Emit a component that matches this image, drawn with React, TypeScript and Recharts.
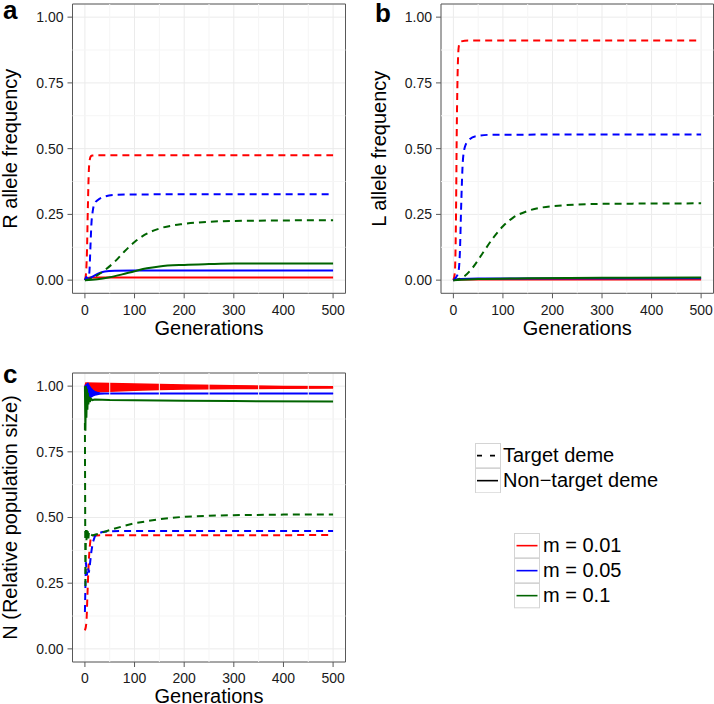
import React from 'react';
import {
  ComposedChart, Line, Area, XAxis, YAxis, CartesianGrid, ReferenceLine,
  ReferenceArea, Label, Legend,
} from 'recharts';

const RED = '#ff0000';
const BLUE = '#0000ff';
const GREEN = '#006400';
const FONT = '"Liberation Sans", Arial, Helvetica, sans-serif';

// axes
const xTicks = [0, 100, 200, 300, 400, 500];
const yTicks = [0, 0.25, 0.5, 0.75, 1];
const xMinor = [50, 150, 250, 350, 450];
const yMinor = [0.125, 0.375, 0.625, 0.875];
const xDomain = [-25, 525];
const yDomain = [-0.05, 1.05];

// legend labels
const linetypeLabels = ['Target deme', 'Non\u2212target deme'];
const colorLabels = ['m = 0.01', 'm = 0.05', 'm = 0.1'];
const panelLetters = ['a', 'b', 'c'];

// ---------- Panel a : R allele frequency ----------
const aGenRT = [0, 2, 4, 6, 8, 10, 12, 15, 30, 500];
const aValRT = [0, 0.02, 0.1, 0.28, 0.42, 0.46, 0.471, 0.474, 0.475, 0.475];
const aGenBT = [0, 3, 6, 9, 11, 13, 16, 20, 30, 40, 60, 100, 500];
const aValBT = [0, 0.012, 0.004, 0.03, 0.12, 0.21, 0.265, 0.293, 0.31, 0.318, 0.324, 0.326, 0.327];
const aGenGT = [0, 10, 20, 40, 60, 80, 100, 120, 150, 200, 250, 300, 400, 500];
const aValGT = [0, 0.004, 0.013, 0.038, 0.07, 0.11, 0.145, 0.172, 0.196, 0.214, 0.222, 0.225, 0.227, 0.228];
const aGenRN = [0, 3, 6, 10, 20, 500];
const aValRN = [0, 0.005, 0.008, 0.01, 0.01, 0.01];
const aGenBN = [0, 10, 20, 30, 40, 60, 100, 500];
const aValBN = [0, 0.008, 0.018, 0.027, 0.033, 0.036, 0.037, 0.037];
const aGenGN = [0, 25, 50, 75, 100, 125, 150, 200, 250, 300, 400, 500];
const aValGN = [0, 0.003, 0.011, 0.022, 0.034, 0.045, 0.052, 0.058, 0.061, 0.063, 0.063, 0.063];

// ---------- Panel b : L allele frequency ----------
const bGenRT = [0, 3, 5, 7, 9, 11, 14, 30, 500];
const bValRT = [0, 0.03, 0.2, 0.6, 0.82, 0.89, 0.907, 0.911, 0.911];
const bGenBT = [0, 5, 10, 13, 16, 19, 23, 30, 45, 80, 500];
const bValBT = [0, 0.01, 0.03, 0.1, 0.3, 0.45, 0.505, 0.53, 0.547, 0.553, 0.554];
const bGenGT = [0, 10, 20, 40, 60, 80, 100, 120, 150, 200, 300, 500];
const bValGT = [0, 0.003, 0.012, 0.05, 0.105, 0.16, 0.205, 0.237, 0.263, 0.281, 0.29, 0.292];
const bGenRN = [0, 10, 500];
const bValRN = [0, 0.002, 0.002];
const bGenBN = [0, 15, 50, 500];
const bValBN = [0, 0.004, 0.006, 0.007];
const bGenGN = [0, 50, 150, 300, 500];
const bValGN = [0, 0.004, 0.007, 0.009, 0.01];

// ---------- Panel c : N (relative population size) ----------
const cGenRT = [0, 3, 5, 7, 9, 11, 13, 16, 30, 500];
const cValRT = [0.07, 0.1, 0.2, 0.3, 0.37, 0.41, 0.425, 0.43, 0.432, 0.433];
const cGenBT = [0, 2, 4, 6, 8, 10, 13, 16, 20, 25, 35, 50, 100, 500];
const cValBT = [0.14, 0.33, 0.28, 0.31, 0.29, 0.32, 0.37, 0.405, 0.428, 0.438, 0.445, 0.448, 0.449, 0.449];
const cGenGT = [0, 1, 2, 3, 4, 5, 6, 7, 8, 10, 12, 15, 25, 50, 75, 100, 150, 200, 250, 300, 400, 500];
const cValGT = [0.86, 0.23, 0.46, 0.41, 0.455, 0.415, 0.447, 0.42, 0.44, 0.428, 0.435, 0.432, 0.437, 0.452, 0.466, 0.478, 0.494, 0.503, 0.507, 0.509, 0.511, 0.511];
// oscillating non-target demes: envelope (low, high)
const cGenRN = [0, 2, 25, 50, 100, 150, 200, 300, 400, 500];
const cLowRN = [1.0, 0.978, 0.979, 0.981, 0.984, 0.987, 0.989, 0.991, 0.992, 0.993];
const cHighRN = [1.0, 1.012, 1.011, 1.01, 1.008, 1.006, 1.004, 1.001, 0.999, 0.998];
const cGenBN = [0, 6, 9, 12, 16, 20, 25, 30, 40, 100, 500];
const cLowBN = [1.0, 0.95, 0.953, 0.958, 0.963, 0.966, 0.968, 0.97, 0.971, 0.971, 0.971];
const cHighBN = [1.0, 1.01, 1.0, 0.992, 0.984, 0.979, 0.976, 0.974, 0.973, 0.973, 0.973];
const cGenGN = [0, 1, 2, 3, 4, 5, 6, 7, 8, 10, 12, 15, 20, 50, 100, 200, 300, 500];
const cValGN = [1.0, 0.83, 1.0, 0.88, 0.99, 0.91, 0.975, 0.93, 0.96, 0.94, 0.952, 0.947, 0.949, 0.947, 0.946, 0.944, 0.943, 0.942];

type Series = { key: string; gens: number[]; vals: any[] };
function merge(series: Series[]) {
  const map = new Map<number, any>();
  series.forEach((s) =>
    s.gens.forEach((g, i) => {
      if (!map.has(g)) map.set(g, { g });
      map.get(g)[s.key] = s.vals[i];
    }),
  );
  return Array.from(map.values()).sort((p, q) => p.g - q.g);
}
const zip = (lo: number[], hi: number[]) => lo.map((v, i) => [v, hi[i]]);

const dataA = merge([
  { key: 'rt', gens: aGenRT, vals: aValRT },
  { key: 'bt', gens: aGenBT, vals: aValBT },
  { key: 'gt', gens: aGenGT, vals: aValGT },
  { key: 'rn', gens: aGenRN, vals: aValRN },
  { key: 'bn', gens: aGenBN, vals: aValBN },
  { key: 'gn', gens: aGenGN, vals: aValGN },
]);
const dataB = merge([
  { key: 'rt', gens: bGenRT, vals: bValRT },
  { key: 'bt', gens: bGenBT, vals: bValBT },
  { key: 'gt', gens: bGenGT, vals: bValGT },
  { key: 'rn', gens: bGenRN, vals: bValRN },
  { key: 'bn', gens: bGenBN, vals: bValBN },
  { key: 'gn', gens: bGenGN, vals: bValGN },
]);
const dataC = merge([
  { key: 'rt', gens: cGenRT, vals: cValRT },
  { key: 'bt', gens: cGenBT, vals: cValBT },
  { key: 'gt', gens: cGenGT, vals: cValGT },
  { key: 'rn', gens: cGenRN, vals: zip(cLowRN, cHighRN) },
  { key: 'bn', gens: cGenBN, vals: zip(cLowBN, cHighBN) },
  { key: 'gn', gens: cGenGN, vals: cValGN },
]);

const DASH = '7 5';
const AXIS_COL = '#595959';
const TEXT_COL = '#1a1a1a';

function frame(xTitleX: number, xTitleY: number, yTitleX: number, yTitleY: number, yTitle: string, yTitleSize: number, yWidth: number, xHeight: number) {
  return [
    <CartesianGrid key="grid" stroke="#ebebeb" strokeWidth={1} />,
    ...xMinor.map((v) => (
      <ReferenceLine key={'mx' + v} x={v} stroke="#f5f5f5" strokeWidth={1} />
    )),
    ...yMinor.map((v) => (
      <ReferenceLine key={'my' + v} y={v} stroke="#f5f5f5" strokeWidth={1} />
    )),
    <XAxis
      key="x"
      type="number"
      dataKey="g"
      domain={xDomain}
      ticks={xTicks}
      allowDataOverflow
      axisLine={false}
      tickLine={{ stroke: AXIS_COL }}
      tickSize={5}
      tickMargin={6.5}
      height={xHeight}
      tick={{ fontSize: 14, fill: TEXT_COL, fontFamily: FONT }}
    >
      <Label
        content={() => (
          <text x={xTitleX} y={xTitleY} textAnchor="middle" fontSize={20} fill="#000" fontFamily={FONT}>
            Generations
          </text>
        )}
      />
    </XAxis>,
    <YAxis
      key="y"
      type="number"
      domain={yDomain}
      ticks={yTicks}
      allowDataOverflow
      axisLine={false}
      tickLine={{ stroke: AXIS_COL }}
      tickSize={5}
      tickMargin={4}
      width={yWidth}
      tickFormatter={(v: number) => v.toFixed(2)}
      tick={{ fontSize: 14, fill: TEXT_COL, fontFamily: FONT }}
    >
      <Label
        content={() => (
          <text
            transform={`translate(${yTitleX},${yTitleY}) rotate(-90)`}
            textAnchor="middle"
            fontSize={yTitleSize}
            fill="#000"
            fontFamily={FONT}
          >
            {yTitle}
          </text>
        )}
      />
    </YAxis>,
  ];
}

function border() {
  return (
    <ReferenceArea
      key="border"
      x1={xDomain[0]}
      x2={xDomain[1]}
      y1={yDomain[0]}
      y2={yDomain[1]}
      fill="none"
      fillOpacity={0}
      stroke={AXIS_COL}
      strokeWidth={1}
      ifOverflow="visible"
    />
  );
}

function simpleLines() {
  const defs = [
    { k: 'rn', c: RED, d: false },
    { k: 'bn', c: BLUE, d: false },
    { k: 'gn', c: GREEN, d: false },
    { k: 'rt', c: RED, d: true },
    { k: 'bt', c: BLUE, d: true },
    { k: 'gt', c: GREEN, d: true },
  ];
  return defs.map((s) => (
    <Line
      key={s.k}
      dataKey={s.k}
      type="monotone"
      stroke={s.c}
      strokeWidth={2}
      strokeDasharray={s.d ? DASH : undefined}
      dot={false}
      activeDot={false}
      connectNulls
      isAnimationActive={false}
    />
  ));
}

const LegendBlock = () => {
  const row = 25.3;
  return (
    <div style={{ position: 'relative', width: 239, height: 170, fontFamily: FONT, fontSize: 20, color: '#000' }}>
      {linetypeLabels.map((lab, i) => (
        <div key={lab} style={{ position: 'absolute', left: 0, top: i * row, height: row, display: 'flex', alignItems: 'center', whiteSpace: 'nowrap' }}>
          <svg width={26} height={row} style={{ display: 'block' }}>
            <rect x={0.5} y={0.5} width={25} height={row - 1} fill="#fff" stroke="#d4d4d4" />
            <line x1={2} x2={23} y1={row / 2} y2={row / 2} stroke="#000" strokeWidth={1.6} strokeDasharray={i === 0 ? '5 8' : undefined} />
          </svg>
          <span style={{ marginLeft: 2 }}>{lab}</span>
        </div>
      ))}
      {colorLabels.map((lab, i) => (
        <div key={lab} style={{ position: 'absolute', left: 39, top: 90 + i * row, height: row, display: 'flex', alignItems: 'center', whiteSpace: 'nowrap' }}>
          <svg width={26} height={row} style={{ display: 'block' }}>
            <rect x={0.5} y={0.5} width={25} height={row - 1} fill="#fff" stroke="#d4d4d4" />
            <line x1={2.5} x2={23.5} y1={row / 2} y2={row / 2} stroke={[RED, BLUE, GREEN][i]} strokeWidth={1.6} />
          </svg>
          <span style={{ marginLeft: 3 }}>{lab}</span>
        </div>
      ))}
    </div>
  );
};

export default function App() {
  return (
    <div style={{ position: 'absolute', left: 0, top: 0, width: 714, height: 704, background: '#fff', overflow: 'hidden' }}>
      <div style={{ position: 'absolute', left: 0, top: 0 }}>
        <ComposedChart width={360} height={345} data={dataA} margin={{ top: 4, right: 14.5, bottom: 0, left: 0 }}>
          {frame(209, 334.5, 17, 148.7, 'R allele frequency', 20, 72.5, 51.7)}
          {simpleLines()}
          {border()}
        </ComposedChart>
      </div>
      <div style={{ position: 'absolute', left: 360, top: 0 }}>
        <ComposedChart width={354} height={345} data={dataB} margin={{ top: 4, right: 0.5, bottom: 0, left: 0 }}>
          {frame(217.3, 334.5, 25.5, 148.7, 'L allele frequency', 20, 81, 51.7)}
          {simpleLines()}
          {border()}
        </ComposedChart>
      </div>
      <div style={{ position: 'absolute', left: 0, top: 345 }}>
        <ComposedChart width={714} height={359} data={dataC} margin={{ top: 28, right: 368.5, bottom: 0, left: 0 }}>
          {frame(209, 357.5, 17, 172.5, 'N (Relative population size)', 20, 72.5, 42)}
          <Area
            dataKey="rn"
            type="linear"
            stroke={RED}
            strokeWidth={1.5}
            fill={RED}
            fillOpacity={1}
            connectNulls
            dot={false}
            activeDot={false}
            isAnimationActive={false}
          />
          <Area
            dataKey="bn"
            type="linear"
            stroke={BLUE}
            strokeWidth={1.5}
            fill={BLUE}
            fillOpacity={1}
            connectNulls
            dot={false}
            activeDot={false}
            isAnimationActive={false}
          />
          <Line dataKey="gn" type="linear" stroke={GREEN} strokeWidth={2} dot={false} activeDot={false} connectNulls isAnimationActive={false} />
          <Line dataKey="rt" type="monotone" stroke={RED} strokeWidth={2} strokeDasharray={DASH} dot={false} activeDot={false} connectNulls isAnimationActive={false} />
          <Line dataKey="bt" type="linear" stroke={BLUE} strokeWidth={2} strokeDasharray={DASH} dot={false} activeDot={false} connectNulls isAnimationActive={false} />
          <Line dataKey="gt" type="linear" stroke={GREEN} strokeWidth={2} strokeDasharray={DASH} dot={false} activeDot={false} connectNulls isAnimationActive={false} />
          {border()}
          <Legend
            layout="vertical"
            align="center"
            verticalAlign="middle"
            content={() => <LegendBlock />}
            wrapperStyle={{ position: 'absolute', left: 475, top: 97.7, width: 239, height: 170 }}
          />
        </ComposedChart>
      </div>
      <svg width={714} height={704} style={{ position: 'absolute', left: 0, top: 0, pointerEvents: 'none' }}>
        <text x={3} y={19} fontSize={26} fontWeight="bold" fontFamily={FONT} fill="#000">{panelLetters[0]}</text>
        <text x={375} y={22} fontSize={26} fontWeight="bold" fontFamily={FONT} fill="#000">{panelLetters[1]}</text>
        <text x={3} y={383.3} fontSize={26} fontWeight="bold" fontFamily={FONT} fill="#000">{panelLetters[2]}</text>
      </svg>
    </div>
  );
}
